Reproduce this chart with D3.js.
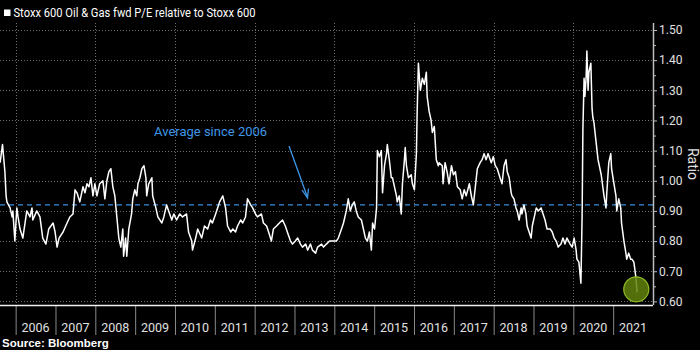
<!DOCTYPE html>
<html>
<head>
<meta charset="utf-8">
<script src="https://cdnjs.cloudflare.com/ajax/libs/d3/7.8.5/d3.min.js"></script>
<style>
  html, body { margin: 0; padding: 0; background: #000; }
  svg { display: block; }
</style>
</head>
<body>
<svg id="chart" width="700" height="350"></svg>
<script>
// ---- Data ----
const chartTitle = "Stoxx 600 Oil & Gas fwd P/E relative to Stoxx 600";
const sourceText = "Source: Bloomberg";
const axisTitle = "Ratio";
const annotationText = "Average since 2006";
const averageValue = 0.92;

// decimal year of each observation
const dates = [
  2005.61,2005.67,2005.73,2005.76,2005.78,2005.86,2005.91,2005.93,2005.98,2006.03,
  2006.06,2006.11,2006.18,2006.28,2006.36,2006.41,2006.43,2006.53,2006.61,2006.68,
  2006.76,2006.83,2006.94,2006.99,2007.04,2007.09,2007.19,2007.29,2007.36,2007.44,
  2007.49,2007.54,2007.61,2007.69,2007.74,2007.79,2007.84,2007.89,2007.94,2007.99,
  2008.04,2008.11,2008.19,2008.24,2008.29,2008.34,2008.39,2008.44,2008.49,2008.54,
  2008.59,2008.64,2008.69,2008.71,2008.76,2008.79,2008.84,2008.91,2008.94,2008.99,
  2009.04,2009.07,2009.12,2009.17,2009.22,2009.27,2009.29,2009.34,2009.42,2009.44,
  2009.52,2009.57,2009.67,2009.72,2009.79,2009.84,2009.92,2009.97,2010.04,2010.12,
  2010.19,2010.29,2010.34,2010.42,2010.44,2010.52,2010.57,2010.67,2010.74,2010.82,
  2010.89,2010.94,2011.02,2011.07,
  2011.12,2011.20,2011.27,2011.32,2011.40,2011.45,2011.52,2011.57,2011.65,2011.70,
  2011.77,2011.82,2011.90,2011.95,2012.02,2012.07,2012.17,2012.22,2012.30,2012.35,
  2012.42,2012.47,2012.55,2012.62,2012.70,2012.77,2012.82,2012.90,2012.95,2013.02,
  2013.08,2013.15,2013.20,2013.28,2013.33,2013.40,2013.45,2013.53,2013.58,2013.68,
  2013.73,2013.80,2013.88,2013.95,2014.05,2014.10,2014.18,2014.23,2014.30,2014.35,
  2014.40,2014.45,2014.50,2014.55,2014.60,2014.68,2014.73,2014.78,2014.83,2014.88,
  2014.93,2014.96,2015.01,2015.06,2015.08,2015.13,2015.18,2015.21,2015.26,2015.31,
  2015.33,2015.38,2015.43,2015.46,2015.51,2015.56,2015.58,2015.63,2015.68,2015.71,
  2015.76,2015.78,2015.81,2015.86,2015.93,2015.96,2016.01,2016.06,2016.08,2016.11,
  2016.16,2016.21,2016.26,2016.31,2016.33,2016.38,2016.43,2016.46,2016.51,2016.56,
  2016.61,
  2016.63,2016.71,2016.73,2016.78,2016.83,2016.88,2016.94,2016.99,2017.04,2017.09,
  2017.16,2017.21,2017.26,2017.31,2017.39,2017.44,2017.49,2017.54,2017.59,2017.66,
  2017.71,2017.76,2017.81,2017.86,2017.94,2017.99,2018.04,2018.09,2018.16,2018.21,
  2018.26,2018.31,2018.34,2018.39,2018.44,2018.46,2018.51,2018.56,2018.59,2018.64,
  2018.69,2018.71,2018.76,2018.81,2018.84,2018.89,2018.94,2018.97,2019.02,2019.07,
  2019.12,2019.19,2019.24,2019.29,2019.34,2019.42,2019.47,2019.52,2019.57,2019.62,
  2019.69,2019.74,2019.79,2019.84,2019.92,2019.97,2020.02,2020.07,2020.09,2020.14,
  2020.19,2020.22,2020.24,2020.27,2020.29,2020.32,2020.34,2020.37,2020.39,2020.44,
  2020.47,2020.49,2020.52,2020.57,2020.62,2020.70,2020.72,2020.77,2020.82,2020.84,
  2020.89,2020.94,2020.96,2021.02,2021.07,2021.09,2021.14,2021.19,2021.21,2021.27,
  2021.32,2021.34,2021.39,2021.44,2021.47,2021.52,2021.57,2021.60
];

// Oil & Gas fwd P/E relative to Stoxx 600
const ratio = [
  1.06,1.12,1.03,0.95,0.93,0.91,0.88,0.90,0.80,0.91,
  0.88,0.84,0.81,0.90,0.88,0.91,0.87,0.90,0.88,0.81,
  0.79,0.84,0.86,0.83,0.78,0.81,0.83,0.86,0.88,0.89,
  0.97,0.96,0.93,0.98,0.96,0.99,0.98,1.01,0.95,0.99,
  0.95,0.99,1.00,0.94,1.00,1.03,1.04,0.98,0.95,0.88,
  0.81,0.78,0.84,0.75,0.81,0.75,0.84,0.89,0.94,0.97,
  0.95,0.99,1.01,1.04,1.05,1.01,0.95,0.99,1.01,0.95,
  0.91,0.88,0.86,0.88,0.92,0.90,0.87,0.89,0.87,0.89,
  0.88,0.89,0.83,0.80,0.77,0.81,0.84,0.81,0.85,0.84,
  0.87,0.86,0.89,0.91,
  0.93,0.95,0.91,0.85,0.83,0.84,0.83,0.85,0.87,0.86,
  0.88,0.94,0.92,0.91,0.89,0.88,0.89,0.86,0.85,0.83,
  0.80,0.84,0.85,0.86,0.87,0.85,0.83,0.80,0.79,0.80,
  0.81,0.79,0.78,0.79,0.77,0.79,0.77,0.76,0.78,0.79,
  0.78,0.79,0.80,0.80,0.80,0.81,0.84,0.86,0.90,0.94,
  0.90,0.92,0.93,0.90,0.88,0.87,0.84,0.81,0.80,0.83,
  0.77,0.86,0.84,0.91,1.10,1.08,1.10,0.96,1.05,1.09,
  1.12,1.07,1.01,1.01,0.98,0.95,0.93,0.95,0.89,0.99,
  1.07,1.11,1.05,1.01,1.02,0.99,0.97,1.09,1.23,1.39,
  1.30,1.34,1.32,1.36,1.28,1.23,1.20,1.16,1.18,1.07,
  1.05,
  1.06,1.05,0.99,1.06,1.03,0.99,1.05,1.02,1.03,0.98,
  0.97,0.94,0.97,0.95,0.99,0.95,0.92,0.98,1.04,1.06,
  1.07,1.09,1.07,1.09,1.06,1.08,1.05,1.04,1.01,0.99,
  1.05,1.07,1.03,1.01,0.96,0.95,0.94,0.91,0.90,0.87,
  0.91,0.89,0.92,0.89,0.85,0.83,0.81,0.85,0.88,0.91,
  0.90,0.91,0.89,0.87,0.84,0.84,0.83,0.81,0.80,0.78,
  0.79,0.81,0.79,0.81,0.79,0.78,0.81,0.77,0.74,0.73,
  0.66,0.88,1.17,1.34,1.28,1.34,1.43,1.30,1.36,1.39,
  1.24,1.21,1.19,1.13,1.07,1.02,1.00,0.95,0.91,0.96,
  1.06,1.09,1.04,0.99,0.95,0.90,0.94,0.91,0.86,0.80,
  0.76,0.74,0.76,0.74,0.74,0.73,0.68,0.63
];

const yearTicks = [2006,2007,2008,2009,2010,2011,2012,2013,2014,2015,2016,2017,2018,2019,2020,2021];
const gridYears = [2006,2008,2010,2012,2014,2016,2018,2020];
const yTicks = [0.60,0.70,0.80,0.90,1.00,1.10,1.20,1.30,1.40,1.50];
const yMinorTicks = [0.65,0.75,0.85,0.95,1.05,1.15,1.25,1.35,1.45];
const highlightDate = 2021.58;
const highlightValue = 0.64;

// ---- Drawing ----
const svg = d3.select("#chart");
const W = 700, H = 350;
const plotLeft = 0, plotRight = 653, plotTop = 23, plotBottom = 305;
const FONT = "Roboto, 'Liberation Sans', sans-serif";

svg.append("rect").attr("width", W).attr("height", H).attr("fill", "#000");

const x = d3.scaleLinear().domain([2005.607, 2022.0]).range([plotLeft, plotRight]);
const y = d3.scaleLinear().domain([0.588, 1.5]).range([plotBottom, 30]);

// horizontal gridlines
svg.append("g").selectAll("line").data(yTicks).join("line")
  .attr("x1", plotLeft).attr("x2", plotRight)
  .attr("y1", d => Math.round(y(d)) + 0.5).attr("y2", d => Math.round(y(d)) + 0.5)
  .attr("stroke", "#6e6e6e").attr("stroke-width", 1).attr("stroke-dasharray", "1,2");

// vertical gridlines
svg.append("g").selectAll("line").data(gridYears).join("line")
  .attr("x1", d => Math.round(x(d)) + 0.5).attr("x2", d => Math.round(x(d)) + 0.5)
  .attr("y1", plotTop).attr("y2", plotBottom)
  .attr("stroke", "#6e6e6e").attr("stroke-width", 1).attr("stroke-dasharray", "1,2");

// average line
svg.append("line")
  .attr("x1", plotLeft).attr("x2", plotRight)
  .attr("y1", y(averageValue)).attr("y2", y(averageValue))
  .attr("stroke", "#3b8fdc").attr("stroke-width", 1.2).attr("stroke-dasharray", "5,4");

// series line
const series = dates.map((d, i) => ({ t: d, v: ratio[i] }));
svg.append("path").datum(series)
  .attr("fill", "none").attr("stroke", "#ffffff").attr("stroke-width", 1.5)
  .attr("stroke-linejoin", "round")
  .attr("d", d3.line().x(d => x(d.t)).y(d => y(d.v)));

// highlight circle
svg.append("circle")
  .attr("cx", x(highlightDate)).attr("cy", y(highlightValue)).attr("r", 12.5)
  .attr("fill", "rgba(98,130,14,0.85)").attr("stroke", "#8fba24").attr("stroke-width", 1.2);

// bottom axis (year separators + labels)
const xAxis = d3.axisBottom(x).tickValues(yearTicks).tickSize(30).tickFormat("");
const gx = svg.append("g").attr("transform", `translate(0,${plotBottom})`).call(xAxis);
gx.select(".domain").remove();
gx.selectAll(".tick line").attr("stroke", "#8a8a8a").attr("stroke-width", 1);
svg.append("line").attr("x1", plotLeft).attr("x2", plotRight)
  .attr("y1", plotBottom + 0.5).attr("y2", plotBottom + 0.5)
  .attr("stroke", "#f0f0f0").attr("stroke-width", 1.5);
svg.append("g").selectAll("text").data(yearTicks).join("text")
  .attr("x", d => x(d + 0.5)).attr("y", 332)
  .attr("text-anchor", "middle")
  .attr("fill", "#e0e0e0").attr("font-family", FONT).attr("font-size", 12.5)
  .text(d => d);

// right axis
const yAxis = d3.axisRight(y).tickValues(yTicks).tickSize(4).tickPadding(2)
  .tickFormat(d3.format(".2f"));
const gy = svg.append("g").attr("transform", `translate(${plotRight},0)`).call(yAxis);
gy.select(".domain").attr("d", `M0.5,${plotTop}V${plotBottom}`).attr("stroke", "#bdbdbd").attr("stroke-width", 1.5);
gy.selectAll(".tick line").attr("stroke", "#bdbdbd");
gy.selectAll(".tick text").attr("fill", "#e0e0e0").attr("font-family", FONT).attr("font-size", 12);
const yMinor = d3.axisRight(y).tickValues(yMinorTicks).tickSize(3).tickFormat("");
const gym = svg.append("g").attr("transform", `translate(${plotRight},0)`).call(yMinor);
gym.select(".domain").remove();
gym.selectAll(".tick line").attr("stroke", "#bdbdbd");

// axis title
svg.append("text")
  .attr("transform", "translate(688,164) rotate(90)")
  .attr("text-anchor", "middle")
  .attr("fill", "#e0e0e0").attr("font-family", FONT).attr("font-size", 14)
  .text(axisTitle);

// annotation
svg.append("text")
  .attr("x", 154).attr("y", 136)
  .attr("fill", "#3d97e6").attr("font-family", FONT).attr("font-size", 13)
  .text(annotationText);
svg.append("line")
  .attr("x1", 289).attr("y1", 146).attr("x2", 307).attr("y2", 196)
  .attr("stroke", "#3d97e6").attr("stroke-width", 1.3);
svg.append("path")
  .attr("d", "M302,190 L307.5,198 L308.5,188.5")
  .attr("fill", "none").attr("stroke", "#3d97e6").attr("stroke-width", 1.3);

// title
svg.append("rect").attr("x", 4).attr("y", 9.5).attr("width", 6.5).attr("height", 6.5).attr("fill", "#fff");
svg.append("text")
  .attr("x", 13.5).attr("y", 17)
  .attr("fill", "#ffffff").attr("font-family", FONT).attr("font-size", 12)
  .attr("textLength", 242).attr("lengthAdjust", "spacingAndGlyphs")
  .text(chartTitle);

// source
svg.append("text")
  .attr("x", 2).attr("y", 347)
  .attr("fill", "#ffffff").attr("font-family", "'Liberation Sans', Arial, sans-serif")
  .attr("font-size", 11.5).attr("font-weight", "bold")
  .text(sourceText);
</script>
</body>
</html>
